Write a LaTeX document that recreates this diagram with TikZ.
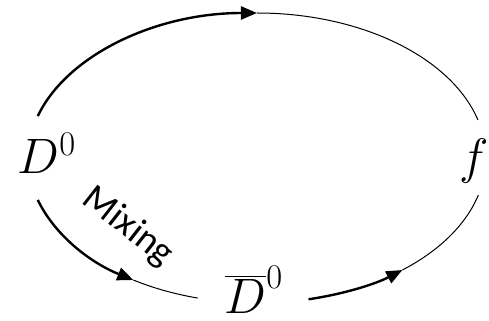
\documentclass[tikz,border=0pt]{standalone}
\usepackage{fontspec}
\newfontfamily\mixfont{Carlito}
\usetikzlibrary{arrows.meta,calc}
\begin{document}
\begin{tikzpicture}[x=0.5pt,y=0.5pt,
  thickarc/.style={line width=1.2pt,-{Triangle[length=8pt,width=6.5pt]}},
  thinarc/.style={line width=0.5pt},
  lbl/.style={font=\fontsize{23}{27}\selectfont,inner sep=0pt}]
\useasboundingbox (0,0) rectangle (489,321);
\coordinate (c) at (257,163);
% labels
\node[lbl] (D0) at (47,168) {$D^0$};
\node[lbl] (f) at (474,160) {$f$};
\node[lbl] (Db) at (254,31) {$\overline{D}^0$};
\node[font=\mixfont\fontsize{19}{22}\selectfont,rotate=-38] (mix) at (128,94) {Mixing};
% arc points on the ellipse
\coordinate (a1) at ($(c)+(163.2:114.5pt and 72.5pt)$);
\coordinate (a2) at ($(c)+(90:114.5pt and 72.5pt)$);
\coordinate (a3) at ($(c)+(15.2:114.5pt and 72.5pt)$);
\coordinate (b1) at ($(c)+(196.8:114.5pt and 72.5pt)$);
\coordinate (b2) at ($(c)+(237.3:114.5pt and 72.5pt)$);
\coordinate (b3) at ($(c)+(255:114.5pt and 72.5pt)$);
\coordinate (d1) at ($(c)+(283:114.5pt and 72.5pt)$);
\coordinate (d2) at ($(c)+(309.4:114.5pt and 72.5pt)$);
\coordinate (d3) at ($(c)+(345.2:114.5pt and 72.5pt)$);
% D0 -> f
\draw[thickarc] (a1) arc[start angle=163.2,end angle=90,x radius=114.5pt,y radius=72.5pt];
\draw[thinarc] (a2) arc[start angle=90,end angle=15.2,x radius=114.5pt,y radius=72.5pt];
% D0 -> Dbar (mixing)
\draw[thickarc] (b1) arc[start angle=196.8,end angle=237.3,x radius=114.5pt,y radius=72.5pt];
\draw[thinarc] (b2) arc[start angle=237.3,end angle=255,x radius=114.5pt,y radius=72.5pt];
% Dbar -> f
\draw[thickarc] (d1) arc[start angle=283,end angle=309.4,x radius=114.5pt,y radius=72.5pt];
\draw[thinarc] (d2) arc[start angle=309.4,end angle=345.2,x radius=114.5pt,y radius=72.5pt];
\end{tikzpicture}
\end{document}
